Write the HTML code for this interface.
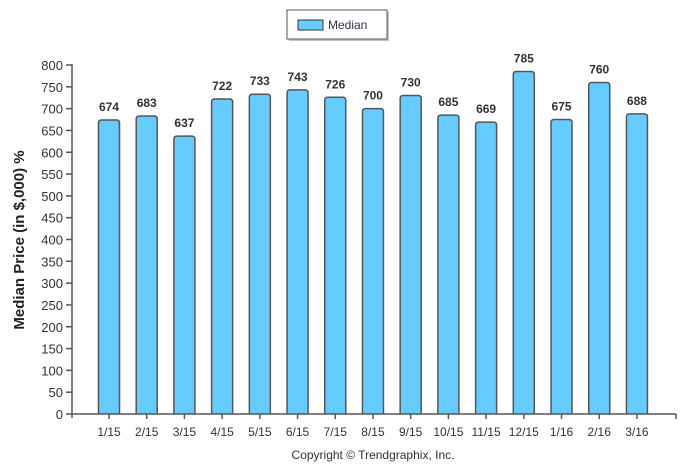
<!DOCTYPE html>
<html><head><style>
body{margin:0;background:#fff;}
svg{display:block;font-family:"Liberation Sans",Arial,sans-serif;}
</style></head><body>
<svg width="693" height="470" viewBox="0 0 693 470">
<rect x="289" y="12" width="100" height="29" fill="#999" opacity="0.6"/>
<rect x="287" y="10" width="100" height="29" fill="#fff" stroke="#556" stroke-width="1"/>
<rect x="298" y="20" width="25" height="10" fill="#66ccff" stroke="#334" stroke-width="1"/>
<text x="328" y="29" font-size="12" fill="#334">Median</text>
<text transform="translate(24,240) rotate(-90)" text-anchor="middle" font-size="15" font-weight="bold" fill="#222">Median Price (in $,000) %</text>
<g id="y" font-size="13" fill="#333" text-anchor="end"></g>
<g id="bars"></g>
<line x1="72" y1="64" x2="72" y2="418" stroke="#555" stroke-width="1.5"/>
<line x1="72" y1="414" x2="676" y2="414" stroke="#555" stroke-width="1.5"/>
<line x1="676" y1="414" x2="676" y2="419" stroke="#555" stroke-width="1.5"/>
<text x="373" y="459" text-anchor="middle" font-size="12" fill="#333">Copyright © Trendgraphix, Inc.</text>
</svg>
<script>
var ns="http://www.w3.org/2000/svg";
function el(t,a,p,txt){var e=document.createElementNS(ns,t);for(var k in a)e.setAttribute(k,a[k]);if(txt)e.textContent=txt;document.querySelector(p).appendChild(e);}
var y0=414,sc=349/800;
for(var v=0;v<=800;v+=50){var y=y0-v*sc;el("line",{x1:66,x2:72,y1:y,y2:y,stroke:"#555","stroke-width":1.5},"svg");el("text",{x:63,y:y+5},"#y",String(v));}
var d=[674,683,637,722,733,743,726,700,730,685,669,785,675,760,688];
var l=["1/15","2/15","3/15","4/15","5/15","6/15","7/15","8/15","9/15","10/15","11/15","12/15","1/16","2/16","3/16"];
d.forEach(function(v,i){var cx=109+i*37.71,top=y0-v*sc;
el("path",{d:"M"+(cx-10.5)+","+y0+"V"+(top+3)+"Q"+(cx-10.5)+","+top+" "+(cx-7.5)+","+top+"H"+(cx+7.5)+"Q"+(cx+10.5)+","+top+" "+(cx+10.5)+","+(top+3)+"V"+y0,fill:"#66ccff",stroke:"#555","stroke-width":1.5},"#bars");
el("text",{x:cx,y:top-9,"text-anchor":"middle","font-size":12,"font-weight":"bold",fill:"#333"},"#bars",String(v));
el("line",{x1:cx,x2:cx,y1:414,y2:419,stroke:"#555","stroke-width":1.5},"svg");
el("text",{x:cx,y:436,"text-anchor":"middle","font-size":12,fill:"#333"},"svg",l[i]);});
</script>
</body></html>
